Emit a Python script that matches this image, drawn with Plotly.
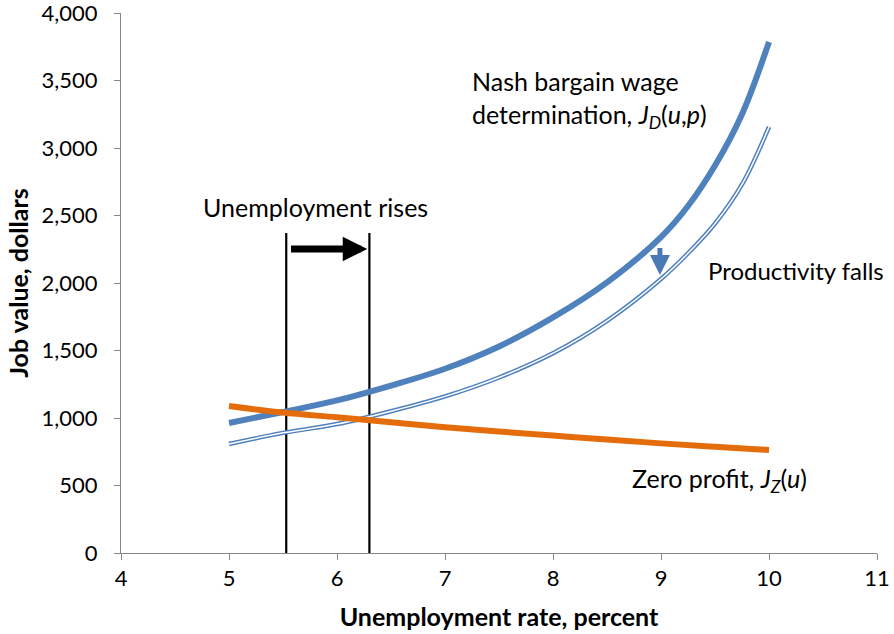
import plotly.graph_objects as go

# ---- data ----
u_nash = [5, 5.5, 6, 6.5, 7, 7.5, 8, 8.5, 9, 9.25, 9.5, 9.75, 10]
j_nash = [963, 1044, 1130, 1240, 1365, 1530, 1745, 2005, 2340, 2570, 2870, 3250, 3785]

u_low = [5, 5.5, 6, 6.5, 7, 7.5, 8, 8.5, 9, 9.25, 9.5, 9.75, 10]
j_low = [807, 890, 955, 1050, 1160, 1300, 1480, 1720, 2030, 2220, 2440, 2730, 3156]

u_zero = [5, 5.5, 6, 6.5, 7, 7.5, 8, 8.5, 9, 9.5, 10]
j_zero = [1089, 1040, 1005, 968, 932, 900, 870, 840, 812, 787, 763]

shift_u = [5.53, 6.30]        # vertical lines marking unemployment
shift_top = 2370
arrow_u = [5.56, 6.28]        # horizontal "rises" arrow
arrow_j = 2252
fall_u = 8.99
fall_j = [2270, 2060]         # productivity-falls arrow (from, to)

x_ticks = [4, 5, 6, 7, 8, 9, 10, 11]
y_ticks = [0, 500, 1000, 1500, 2000, 2500, 3000, 3500, 4000]

BLUE = "#4F81BD"
ORANGE = "#E46C0A"
FONT = "Lato, Calibri, sans-serif"
TXT = 25

fig = go.Figure()

# vertical lines
for u in shift_u:
    fig.add_trace(go.Scatter(x=[u, u], y=[0, shift_top], mode="lines",
                             line=dict(color="black", width=2.2),
                             hoverinfo="skip", showlegend=False))

# Nash curve (thick)
fig.add_trace(go.Scatter(x=u_nash, y=j_nash, mode="lines",
                         line=dict(color=BLUE, width=6, shape="spline"),
                         showlegend=False))
# lowered curve (double line)
fig.add_trace(go.Scatter(x=u_low, y=j_low, mode="lines",
                         line=dict(color=BLUE, width=4.5, shape="spline"),
                         showlegend=False))
fig.add_trace(go.Scatter(x=u_low, y=j_low, mode="lines",
                         line=dict(color="white", width=1.5, shape="spline"),
                         showlegend=False))
# zero profit
fig.add_trace(go.Scatter(x=u_zero, y=j_zero, mode="lines",
                         line=dict(color=ORANGE, width=6, shape="spline"),
                         showlegend=False))

# arrows
fig.add_annotation(x=arrow_u[1], y=arrow_j, ax=arrow_u[0], ay=arrow_j,
                   xref="x", yref="y", axref="x", ayref="y",
                   showarrow=True, arrowhead=2, arrowsize=0.7, arrowwidth=7,
                   arrowcolor="black", text="")
fig.add_annotation(x=fall_u, y=fall_j[1], ax=fall_u, ay=fall_j[0],
                   xref="x", yref="y", axref="x", ayref="y",
                   showarrow=True, arrowhead=2, arrowsize=0.8, arrowwidth=5,
                   arrowcolor="#4A7AB5", text="")

# labels
fig.add_annotation(x=5.80, y=2563, text="Unemployment rises", showarrow=False,
                   xanchor="center", yanchor="middle", font=dict(size=TXT))
fig.add_annotation(x=7.23, y=3356, xanchor="left", yanchor="middle", align="left",
                   showarrow=False, font=dict(size=TXT),
                   text="Nash bargain wage<br>determination, <i>J</i><sub><i>D</i></sub>(<i>u</i>,<i>p</i>)")
fig.add_annotation(x=9.42, y=2096, xanchor="left", yanchor="middle",
                   showarrow=False, font=dict(size=24), text="Productivity falls")
fig.add_annotation(x=8.71, y=540, xanchor="left", yanchor="middle",
                   showarrow=False, font=dict(size=TXT),
                   text="Zero profit, <i>J</i><sub><i>Z</i></sub>(<i>u</i>)")

fig.update_layout(
    width=894, height=634,
    margin=dict(l=121, r=17, t=13, b=81),
    paper_bgcolor="white", plot_bgcolor="white",
    font=dict(family=FONT, size=22, color="black"),
    showlegend=False,
)
fig.update_xaxes(range=[4, 11], tickvals=x_ticks, showgrid=False, zeroline=False,
                 showline=True, linecolor="#868686", linewidth=1,
                 ticks="outside", ticklen=6, tickcolor="#868686",
                 tickfont=dict(size=22), automargin=False, ticklabeloverflow="allow",
                 title=dict(text="<b>Unemployment rate, percent</b>", font=dict(size=25), standoff=18))
fig.update_yaxes(range=[0, 4000], tickvals=y_ticks, tickformat=",", showgrid=False,
                 zeroline=False, showline=True, linecolor="#868686", linewidth=1,
                 ticks="outside", ticklen=6, tickcolor="#868686", ticklabelstandoff=12,
                 tickfont=dict(size=22), automargin=False, ticklabeloverflow="allow",
                 title=dict(text="<b>Job value, dollars</b>", font=dict(size=25), standoff=5))

# remove the default page margin so the figure sits at the window's corner
fig.write_html("out.html", config={"displayModeBar": False},
               post_script="document.body.style.margin='0';document.body.style.overflow='hidden';")
